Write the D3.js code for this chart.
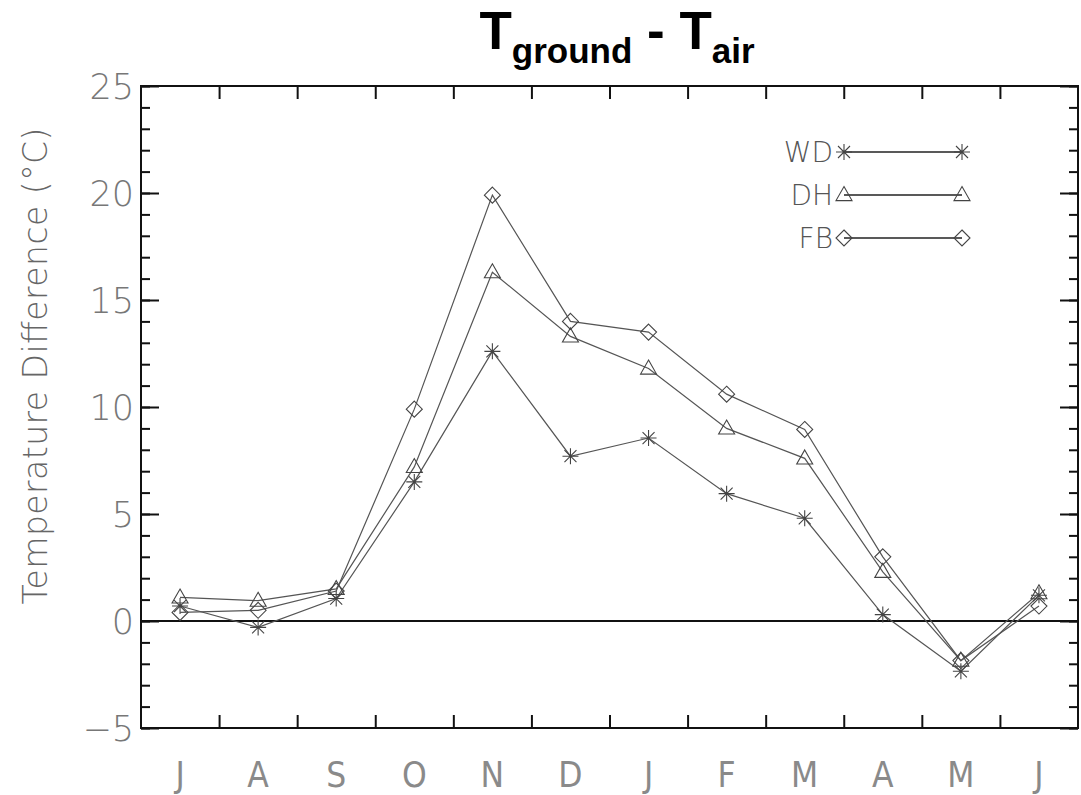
<!DOCTYPE html>
<html>
<head>
<meta charset="utf-8">
<script src="https://cdn.jsdelivr.net/npm/d3@7"></script>
<style>
  body { margin: 0; background: #fff; }
  svg { display: block; }
</style>
</head>
<body>
<div class="container"></div>
<script>
const months = ['J', 'A', 'S', 'O', 'N', 'D', 'J', 'F', 'M', 'A', 'M', 'J']
const wd = [0.7, -0.3, 1.05, 6.5, 12.6, 7.7, 8.55, 5.95, 4.8, 0.3, -2.35, 1.2]
const dh = [1.1, 0.95, 1.5, 7.2, 16.3, 13.3, 11.8, 9.0, 7.6, 2.3, -1.85, 1.3]
const fb = [0.4, 0.5, 1.4, 9.9, 19.9, 14.0, 13.5, 10.6, 8.95, 3.0, -1.85, 0.7]
const seriesNames = ['WD', 'DH', 'FB']
const yMajorTicks = [-5, 0, 5, 10, 15, 20, 25]

const width = 1081
const height = 795
const margin = { top: 86, right: 3, bottom: 67, left: 141 }
const x0 = margin.left
const x1 = width - margin.right
const y0 = margin.top
const y1 = height - margin.bottom

const svg = d3
  .select('.container')
  .append('svg')
  .attr('width', width)
  .attr('height', height)

const x = d3.scaleBand().domain(d3.range(months.length)).range([x0, x1])
const xb = d3.scaleLinear().domain([0, months.length]).range([x0, x1])
const y = d3.scaleLinear().domain([-5, 25]).range([y1, y0])

const minorTicks = d3.range(-5, 26, 1)
const labelFont = 'DejaVu Sans, sans-serif'

// frame ticks, all pointing inward
function tickAxis(axis, tx, ty, size) {
  svg
    .append('g')
    .attr('transform', `translate(${tx},${ty})`)
    .call(axis.tickSizeInner(size).tickSizeOuter(0).tickFormat(''))
    .call((g) => g.select('.domain').remove())
    .call((g) => g.selectAll('line').attr('stroke', '#111').attr('stroke-width', 2))
}
tickAxis(d3.axisRight(y).tickValues(minorTicks), x0, 0, 9)
tickAxis(d3.axisRight(y).tickValues(yMajorTicks), x0, 0, 18)
tickAxis(d3.axisLeft(y).tickValues(minorTicks), x1, 0, 9)
tickAxis(d3.axisLeft(y).tickValues(yMajorTicks), x1, 0, 18)
tickAxis(d3.axisTop(xb).tickValues(d3.range(1, 12)), 0, y1, 13)
tickAxis(d3.axisBottom(xb).tickValues(d3.range(1, 12)), 0, y0, 13)

// y labels
svg
  .append('g')
  .attr('transform', `translate(${x0},0)`)
  .call(d3.axisLeft(y).tickValues(yMajorTicks).tickSize(0).tickPadding(7))
  .call((g) => g.select('.domain').remove())
  .call((g) =>
    g
      .selectAll('text')
      .attr('font-family', labelFont)
      .attr('font-weight', 200)
      .attr('font-size', 35)
      .attr('fill', '#777')
      .attr('dy', '0.36em')
  )

// month labels
svg
  .append('g')
  .attr('transform', `translate(0,${y1})`)
  .call(d3.axisBottom(x).tickFormat((i) => months[i]).tickSize(0).tickPadding(34))
  .call((g) => g.select('.domain').remove())
  .call((g) =>
    g
      .selectAll('text')
      .attr('font-family', 'Liberation Sans Narrow, DejaVu Sans Condensed, sans-serif')
      .attr('font-size', 35)
      .attr('fill', '#8a8a8a')
  )

// y title
svg
  .append('text')
  .attr('transform', `translate(47,366) rotate(-90)`)
  .attr('text-anchor', 'middle')
  .attr('font-family', labelFont)
  .attr('font-weight', 200)
  .attr('font-size', 33)
  .attr('fill', '#666')
  .attr('textLength', 477)
  .attr('lengthAdjust', 'spacing')
  .text('Temperature Difference (°C)')

// title
const title = svg
  .append('text')
  .attr('x', 617)
  .attr('y', 49)
  .attr('text-anchor', 'middle')
  .attr('font-family', 'Liberation Sans, Arial, sans-serif')
  .attr('font-weight', 'bold')
  .attr('font-size', 53)
  .attr('fill', '#000')
title.append('tspan').text('T')
title.append('tspan').attr('font-size', 35).attr('dy', 14).text('ground')
title.append('tspan').attr('dy', -14).text(' - T')
title.append('tspan').attr('font-size', 35).attr('dy', 14).text('air')

// zero line
svg
  .append('line')
  .attr('x1', x0)
  .attr('x2', x1)
  .attr('y1', y(0))
  .attr('y2', y(0))
  .attr('stroke', '#111')
  .attr('stroke-width', 2)

// frame
svg
  .append('rect')
  .attr('x', x0)
  .attr('y', y0)
  .attr('width', x1 - x0)
  .attr('height', y1 - y0)
  .attr('fill', 'none')
  .attr('stroke', '#111')
  .attr('stroke-width', 2)

// marker shapes
function asterisk(r) {
  const a = r * 0.75
  return `M${-r},0L${r},0M0,${-r}L0,${r}M${-a},${-a}L${a},${a}M${-a},${a}L${a},${-a}`
}
function triangle(r) {
  return `M0,${-r * 1.05}L${r},${r * 0.7}L${-r},${r * 0.7}Z`
}
function diamond(r) {
  return `M0,${-r}L${r},0L0,${r}L${-r},0Z`
}
const markers = [asterisk(8), triangle(8), diamond(8)]
const series = [wd, dh, fb]

const line = d3
  .line()
  .x((d, i) => x(i) + x.bandwidth() / 2)
  .y((d) => y(d))

series.forEach((vals, k) => {
  svg
    .append('path')
    .attr('d', line(vals))
    .attr('fill', 'none')
    .attr('stroke', '#555')
    .attr('stroke-width', 1.2)

  svg
    .append('g')
    .selectAll('path')
    .data(vals)
    .join('path')
    .attr('transform', (d, i) => `translate(${x(i) + x.bandwidth() / 2},${y(d)})`)
    .attr('d', markers[k])
    .attr('fill', 'none')
    .attr('stroke', '#444')
    .attr('stroke-width', 1.1)
})

// legend
const legend = svg.append('g')
seriesNames.forEach((name, k) => {
  const ly = 152 + k * 43
  legend
    .append('text')
    .attr('x', 833)
    .attr('y', ly)
    .attr('dy', '0.36em')
    .attr('text-anchor', 'end')
    .attr('font-family', labelFont)
    .attr('font-weight', 200)
    .attr('font-size', 28)
    .attr('fill', '#555')
    .text(name)
  legend
    .append('line')
    .attr('x1', 844)
    .attr('x2', 962)
    .attr('y1', ly)
    .attr('y2', ly)
    .attr('stroke', '#222')
    .attr('stroke-width', 1.5)
  ;[844, 962].forEach((lx) => {
    legend
      .append('path')
      .attr('transform', `translate(${lx},${ly})`)
      .attr('d', markers[k])
      .attr('fill', 'none')
      .attr('stroke', '#444')
      .attr('stroke-width', 1.1)
  })
})
</script>
</body>
</html>
